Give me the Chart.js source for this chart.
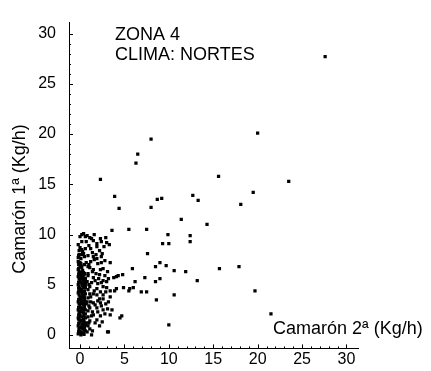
<!DOCTYPE html>
<html>
<head>
<meta charset="utf-8">
<script src="https://cdn.jsdelivr.net/npm/chart.js@4/dist/chart.umd.min.js"></script>
<style>
  body { margin: 0; background: #fff; }
  #wrap { width: 431px; height: 371px; }
</style>
</head>
<body>
<div id="wrap"><canvas id="scatterChart"></canvas></div>
<script>
// catch rates, second-class shrimp (x) vs first-class shrimp (y), Kg/h
const camaron2 = [
    // dense bunch near zero
    -0.2, 0.1, 0.4, -0.1, 0.3, 0.6, -0.2, 0.2, 0.5, 0.0, 0.4, 0.7, -0.2, 0.2, 0.6,
    0.0, 0.4, -0.2, 0.2, 0.6, 0.0, 0.4, 0.7, -0.2, 0.2, 0.5, 0.0, 0.4, -0.2, 0.2,
    0.6, 0.0, 0.4, -0.2, 0.2, 0.6, 0.0, 0.4, -0.2, 0.2, 0.0, -0.2, 0.3, 0.0, -0.2,
    0.1, 0.5, -0.1, 0.3, 0.0, 0.6, -0.2, 0.2, 0.0, 0.4, 0.8, 0.7, 0.9,
    0.1, 0.5, -0.1, 0.3, 0.6, -0.1, 0.4, 0.0, 0.6, -0.1, 0.3, 0.1, 0.5, -0.1, 0.3,
    0.6, 0.1, 0.5, -0.1, 0.3, 0.1, 0.5, -0.1, 0.3, 0.6, 0.1, 0.5, -0.1, 0.3, 0.6,
    0.1, 0.5, -0.1, 0.2, 0.1, -0.2, 0.2, -0.1,
    -0.15, 0.15, 0.45, -0.15, 0.15, 0.45, -0.15, 0.15, 0.45, -0.15, 0.15, 0.45,
    -0.15, 0.15, 0.45, -0.15, 0.15, 0.45, -0.15, 0.15, 0.45, -0.15, 0.15, 0.45,
    -0.15, 0.15, 0.45, -0.15, 0.15, 0.45, -0.15, 0.15, 0.45, -0.15, 0.15, -0.15,
    0.2, 0.6, 1.1, 1.5, 1.9, 2.4, 0.2, 0.4, 1.5, 1.9, 2.4, 3.4, 0.0, 0.5,
    1.1, 1.5, 2.3, 0.4, 0.9, 1.5, 2.1, 2.6, 3.2, 3.8, 4.3, 0.4, 1.1, 1.9, 2.6,
    3.4, 4.1, 1.1, 1.9, 2.6, 3.4, 0.8, 1.5, 2.3, 1.1, 1.9, 2.6, 1.5, 2.3, 1.1,
    0.4, 0.8, 1.3, 3.4, 4.5, 3.2,
    1.2, 2.2, 1.6, 2.9, 1.3, 2.0, 2.8, 1.8, 1.2, 2.0, 2.8, 1.4, 2.2, 1.0, 2.7,
    3.0, 1.7, 2.9, 1.4, 2.8, 0.9, 1.7, 2.2, 1.1, 0.9, 3.1, 0.8, 1.0,
    0.9, 1.4, 1.9, 2.5, 1.0, 1.3, 2.0, 2.4, 3.1, 0.9, 1.2, 2.0, 2.6, 3.2, 0.9,
    1.5, 2.3, 3.0, 1.0, 1.7, 2.4, 3.0, 0.9, 1.4, 2.2, 2.6, 1.0, 1.6, 2.4, 0.9,
    1.8, 2.5, 1.2, 1.9, 0.7, 1.3, 2.3, 3.3, 1.6, 2.9,
    // scattered catches
    27.6, 20.0, 8.0, 6.5, 6.3, 2.3, 15.6, 23.5, 19.5, 18.1, 12.7, 13.3, 8.7, 9.2,
    3.9, 8.0, 4.4, 11.4, 14.3, 3.6, 5.5, 7.5, 9.9, 12.4, 12.4, 9.3, 10.0, 7.6,
    9.0, 8.5, 9.7, 10.6, 11.9, 15.7, 17.9, 5.9, 7.3, 6.2, 8.5, 9.0, 13.2, 4.1,
    4.8, 5.6, 6.9, 7.5, 10.6, 19.7, 8.6, 3.9, 4.9, 5.5, 6.0, 3.6, 4.7, 3.1,
    10.0, 21.5
];
const camaron1 = [
    0.1, 0.0, 0.2, 0.5, 0.6, 0.4, 0.9, 1.0, 0.8, 1.3, 1.4, 1.2, 1.7, 1.8, 1.7,
    2.1, 2.2, 2.5, 2.6, 2.5, 2.9, 3.0, 3.1, 3.3, 3.4, 3.5, 3.8, 3.9, 4.2, 4.2,
    4.1, 4.6, 4.7, 5.0, 5.1, 5.0, 5.4, 5.5, 5.8, 5.9, 6.2, 6.5, 6.4, 6.9, 7.3,
    7.6, 7.8, 8.0, 8.3, 8.7, 8.6, 9.0, 9.3, 9.8, 10.1, 9.9, 7.2, 6.8,
    0.3, 0.5, 0.7, 1.1, 1.0, 1.5, 1.6, 1.9, 2.1, 2.3, 2.4, 2.7, 2.8, 3.1, 3.2,
    3.3, 3.6, 3.7, 4.0, 4.0, 4.4, 4.4, 4.8, 4.9, 4.7, 5.2, 5.3, 5.6, 5.7, 5.6,
    6.0, 6.1, 6.3, 6.7, 7.1, 7.7, 8.0, 8.4,
    0.35, 0.2, 0.05, 1.15, 0.75, 0.6, 1.6, 1.45, 1.3, 2.0, 2.35, 1.95, 2.75, 3.15,
    2.65, 3.55, 3.3, 3.0, 4.35, 3.75, 3.95, 4.65, 4.5, 4.3, 5.25, 5.55, 5.2, 6.05,
    5.8, 5.45, 6.6, 6.2, 5.95, 7.0, 6.85, 7.9,
    10.0, 9.8, 9.7, 9.4, 9.1, 9.3, 8.5, 8.1, 7.8, 7.6, 7.8, 7.2, 7.2, 7.0,
    6.7, 6.5, 6.5, 6.2, 5.9, 5.7, 5.6, 5.4, 5.6, 5.7, 5.9, 4.9, 4.8, 4.6, 4.8,
    4.4, 4.6, 4.1, 4.0, 4.0, 3.8, 3.3, 3.2, 3.2, 2.7, 2.7, 2.5, 2.0, 1.9, 1.4,
    0.8, 0.3, 0.0, 2.0, 1.7, 0.3,
    3.8, 3.6, 4.4, 4.3, 5.2, 5.1, 5.9, 6.1, 7.3, 7.1, 7.4, 8.2, 8.4, 8.9, 8.8,
    9.2, 3.0, 3.1, 2.3, 2.1, 1.8, 1.2, 0.9, 0.6, 4.5, 6.3, 5.3, 2.9,
    0.9, 0.4, 1.5, 1.3, 1.2, 1.9, 2.3, 2.9, 2.6, 2.4, 3.3, 3.4, 3.6, 3.3, 3.7,
    4.1, 4.3, 4.7, 5.0, 5.4, 5.2, 5.3, 6.1, 6.3, 6.0, 6.6, 7.0, 7.5, 7.2, 7.9,
    8.0, 8.1, 8.6, 8.8, 9.3, 9.6, 9.6, 9.0, 10.0, 9.7,
    27.7, 20.1, 19.5, 18.0, 17.1, 15.5, 15.8, 15.3, 14.2, 13.0, 13.9, 13.4, 13.5, 13.6,
    13.8, 12.7, 12.6, 11.5, 11.0, 10.4, 10.5, 10.5, 10.0, 9.9, 9.3, 9.1, 9.1, 8.1,
    7.2, 6.8, 6.9, 6.4, 6.3, 6.6, 6.8, 6.6, 5.7, 5.3, 5.3, 5.6, 5.4, 5.8,
    6.0, 4.6, 4.3, 4.3, 4.0, 4.4, 3.5, 4.4, 4.7, 4.4, 4.7, 2.5, 1.9, 0.3,
    1.0, 2.1
];

const xTicks = [0, 5, 10, 15, 20, 25, 30];
const yTicks = [0, 5, 10, 15, 20, 25, 30];

const xTitle = 'Camarón 2ª (Kg/h)';
const yTitle = 'Camarón 1ª (Kg/h)';
const notes = ['ZONA 4', 'CLIMA: NORTES'];

const points = camaron2.map((v, i) => ({ x: v, y: camaron1[i] }));

const fontFamily = '"Liberation Sans", Arial, sans-serif';

// small inward tick marks plus the free-standing texts
const frame = {
    id: 'frame',
    afterDraw(chart) {
        const ctx = chart.ctx;
        const x = chart.scales.x;
        const y = chart.scales.y;
        ctx.save();
        ctx.strokeStyle = '#000';
        ctx.lineWidth = 1;
        ctx.beginPath();
        for (let v = 0; v <= 30; v++) {
            const len = v % 5 === 0 ? 4 : 2;
            const px = Math.round(x.getPixelForValue(v)) + 0.5;
            ctx.moveTo(px, x.top);
            ctx.lineTo(px, x.top - len);
            const py = Math.round(y.getPixelForValue(v)) + 0.5;
            ctx.moveTo(y.right, py);
            ctx.lineTo(y.right + len, py);
        }
        ctx.stroke();

        ctx.fillStyle = '#000';
        ctx.font = '18px ' + fontFamily;
        ctx.textAlign = 'left';
        ctx.textBaseline = 'alphabetic';
        ctx.fillText(notes[0], 115, 40);
        ctx.fillText(notes[1], 115, 60);
        ctx.fillText(xTitle, 273, 334);

        ctx.translate(20, 199);
        ctx.rotate(-Math.PI / 2);
        ctx.textAlign = 'center';
        ctx.textBaseline = 'middle';
        ctx.fillText(yTitle, 0, 0);
        ctx.restore();
    }
};

const ctx = document.getElementById('scatterChart').getContext('2d');

const scatterChart = new Chart(ctx, {
    type: 'scatter',
    data: {
        datasets: [{
            data: points,
            backgroundColor: '#000',
            borderWidth: 0,
            pointStyle: 'rect',
            pointRadius: 2.3
        }]
    },
    options: {
        responsive: true,
        maintainAspectRatio: false,
        animation: false,
        layout: {
            padding: { left: 0, right: 73, top: 13, bottom: 0 }
        },
        plugins: {
            legend: { display: false },
            tooltip: { enabled: false }
        },
        scales: {
            x: {
                type: 'linear',
                min: -1.24,
                max: 31.3,
                afterBuildTicks: (scale) => { scale.ticks = xTicks.map(v => ({ value: v })); },
                afterFit: (scale) => { scale.height = 19; },
                grid: { display: false, tickLength: 0 },
                border: { display: true, color: '#000', width: 1 },
                ticks: {
                    color: '#000',
                    padding: 2,
                    maxRotation: 0,
                    font: { family: fontFamily, size: 16 }
                }
            },
            y: {
                type: 'linear',
                min: -1.34,
                max: 31.1,
                afterBuildTicks: (scale) => { scale.ticks = yTicks.map(v => ({ value: v })); },
                afterFit: (scale) => { scale.width = 69; },
                grid: { display: false, tickLength: 0 },
                border: { display: true, color: '#000', width: 1 },
                ticks: {
                    color: '#000',
                    padding: 13,
                    font: { family: fontFamily, size: 16 }
                }
            }
        }
    },
    plugins: [frame]
});
</script>
</body>
</html>
